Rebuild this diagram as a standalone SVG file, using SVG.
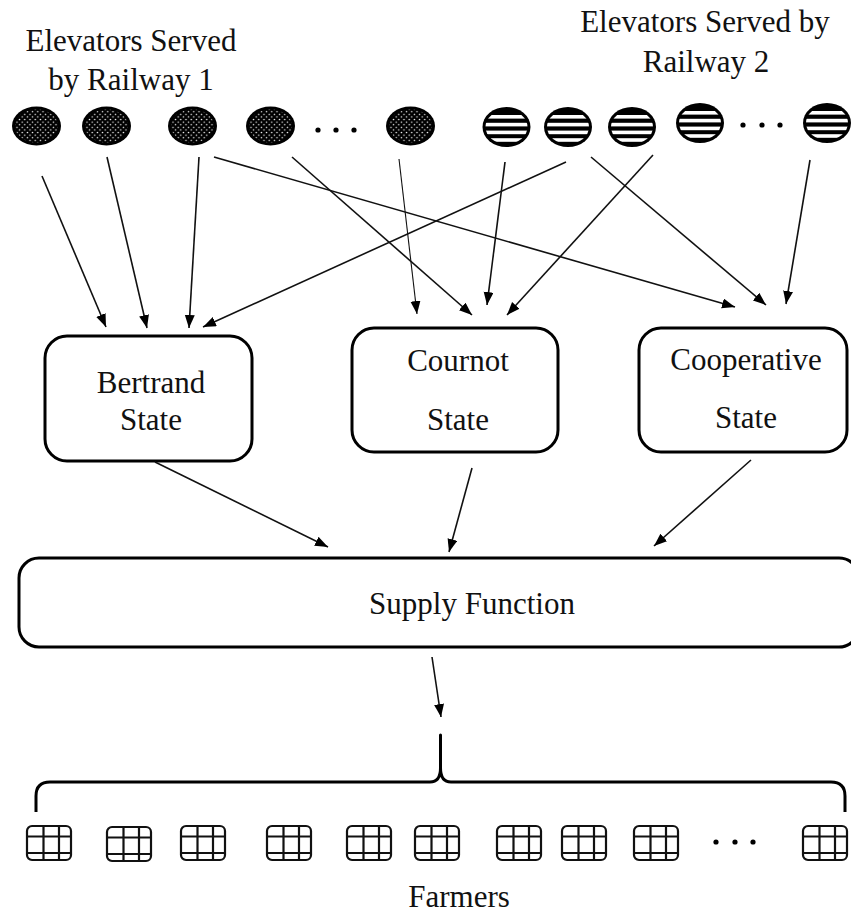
<svg xmlns="http://www.w3.org/2000/svg" xmlns:xlink="http://www.w3.org/1999/xlink" width="851" height="915" viewBox="0 0 851 915">
<style>
.lbl{font-family:"Liberation Serif","Times New Roman",serif;font-size:31px;fill:#111;text-anchor:middle}
.box{fill:#fff;stroke:#000;stroke-width:3}
.edge{stroke:#111;stroke-width:1.6;fill:none;marker-end:url(#ah)}
.dot{fill:#000}
.brace{fill:none;stroke:#000;stroke-width:3;stroke-linejoin:round}
</style>
<defs>
<marker id="ah" markerUnits="userSpaceOnUse" markerWidth="14" markerHeight="11" refX="13" refY="5" orient="auto">
<path d="M0,0 L13,5 L0,10 z" fill="#000"/>
</marker>
<pattern id="dots" patternUnits="userSpaceOnUse" width="5.2" height="5.2">
<rect width="5.2" height="5.2" fill="#000"/>
<circle cx="1.3" cy="1.3" r="0.75" fill="#fff"/>
<circle cx="3.9" cy="3.9" r="0.75" fill="#fff"/>
</pattern>
<clipPath id="stripeClip"><ellipse cx="0" cy="0" rx="21" ry="17"/></clipPath>
<symbol id="dotEll" overflow="visible">
<ellipse cx="0" cy="0" rx="24.5" ry="19.5" fill="#000"/>
<ellipse cx="0" cy="0" rx="21.5" ry="16.5" fill="url(#dots)"/>
</symbol>
<symbol id="stripeEll" overflow="visible">
<ellipse cx="0" cy="0" rx="24" ry="20" fill="#000"/>
<g clip-path="url(#stripeClip)" fill="#fff">
<rect x="-25" y="-12" width="50" height="3.6"/>
<rect x="-25" y="-4.2" width="50" height="3.6"/>
<rect x="-25" y="3.6" width="50" height="3.6"/>
<rect x="-25" y="11.2" width="50" height="3.6"/>
</g>
</symbol>
<symbol id="farmer" overflow="visible">
<rect x="1" y="1" width="44" height="34" rx="5" fill="#fff" stroke="#111" stroke-width="2.2"/>
<path d="M17.5,1 V35 M33,1 V35 M1,11.5 H45 M1,28 H45" stroke="#111" stroke-width="2.2" fill="none"/>
</symbol>
</defs>
<rect width="851" height="915" fill="#fff"/>

<g id="label-railway1">
<text class="lbl" x="131" y="51">Elevators Served</text>
<text class="lbl" x="131" y="90">by Railway 1</text>
</g>
<g id="label-railway2">
<text class="lbl" x="705" y="32">Elevators Served by</text>
<text class="lbl" x="706" y="72">Railway 2</text>
</g>

<g id="elevators-railway1">
<use xlink:href="#dotEll" href="#dotEll" x="36.5" y="126"/>
<use xlink:href="#dotEll" href="#dotEll" x="106.5" y="126"/>
<use xlink:href="#dotEll" href="#dotEll" x="192.5" y="126"/>
<use xlink:href="#dotEll" href="#dotEll" x="270.5" y="126"/>
<circle class="dot" cx="318" cy="130" r="2.6"/>
<circle class="dot" cx="336" cy="130" r="2.6"/>
<circle class="dot" cx="354" cy="130" r="2.6"/>
<use xlink:href="#dotEll" href="#dotEll" x="410.5" y="126"/>
</g>

<g id="elevators-railway2">
<use xlink:href="#stripeEll" href="#stripeEll" x="506.5" y="127"/>
<use xlink:href="#stripeEll" href="#stripeEll" x="568" y="127"/>
<use xlink:href="#stripeEll" href="#stripeEll" x="632" y="127"/>
<use xlink:href="#stripeEll" href="#stripeEll" x="700" y="123"/>
<circle class="dot" cx="743" cy="125" r="2.6"/>
<circle class="dot" cx="762" cy="125" r="2.6"/>
<circle class="dot" cx="780" cy="125" r="2.6"/>
<use xlink:href="#stripeEll" href="#stripeEll" x="827" y="123"/>
</g>

<g id="bertrand">
<rect class="box" x="45" y="336" width="207" height="125" rx="22"/>
<text class="lbl" x="151" y="393">Bertrand</text>
<text class="lbl" x="151" y="430">State</text>
</g>
<g id="cournot">
<rect class="box" x="352" y="328" width="206" height="124" rx="22"/>
<text class="lbl" x="458" y="371">Cournot</text>
<text class="lbl" x="458" y="430">State</text>
</g>
<g id="cooperative">
<rect class="box" x="639" y="328" width="208" height="124" rx="22"/>
<text class="lbl" x="746" y="370">Cooperative</text>
<text class="lbl" x="746" y="428">State</text>
</g>
<g id="supply">
<rect class="box" x="19" y="558" width="840" height="89" rx="20"/>
<text class="lbl" x="472" y="614">Supply Function</text>
</g>

<g id="farmers">
<use xlink:href="#farmer" href="#farmer" x="26" y="825"/>
<use xlink:href="#farmer" href="#farmer" x="106" y="826"/>
<use xlink:href="#farmer" href="#farmer" x="180" y="825"/>
<use xlink:href="#farmer" href="#farmer" x="266" y="825"/>
<use xlink:href="#farmer" href="#farmer" x="346" y="825"/>
<use xlink:href="#farmer" href="#farmer" x="414" y="825"/>
<use xlink:href="#farmer" href="#farmer" x="496" y="825"/>
<use xlink:href="#farmer" href="#farmer" x="561" y="825"/>
<use xlink:href="#farmer" href="#farmer" x="633" y="825"/>
<circle class="dot" cx="716" cy="842" r="2.6"/>
<circle class="dot" cx="735" cy="842" r="2.6"/>
<circle class="dot" cx="753" cy="842" r="2.6"/>
<use xlink:href="#farmer" href="#farmer" x="802" y="825"/>
<text class="lbl" x="459" y="907">Farmers</text>
</g>

<g id="brace">
<path class="brace" d="M36,812 V796 Q36,782 50,782 H430 Q440.5,782 440.5,768 V735 V768 Q440.5,782 451,782 H831 Q845,782 845,796 V812"/>
</g>

<g id="connectors">
<line class="edge" x1="42" y1="176" x2="106" y2="327"/>
<line class="edge" x1="107" y1="157" x2="147" y2="328"/>
<line class="edge" x1="199" y1="157" x2="189" y2="328"/>
<line class="edge" x1="566" y1="162" x2="203" y2="327"/>
<line class="edge" x1="214" y1="157" x2="735" y2="307"/>
<line class="edge" x1="292" y1="157" x2="472" y2="315"/>
<line class="edge" x1="399" y1="159" x2="417" y2="314" style="stroke-width:1.1"/>
<line class="edge" x1="505" y1="162" x2="487" y2="305"/>
<line class="edge" x1="653" y1="155" x2="507" y2="315"/>
<line class="edge" x1="591" y1="157" x2="766" y2="305"/>
<line class="edge" x1="810" y1="160" x2="786" y2="304"/>
<line class="edge" x1="155" y1="462" x2="328" y2="547"/>
<line class="edge" x1="472" y1="468" x2="449" y2="552"/>
<line class="edge" x1="751" y1="460" x2="654" y2="546"/>
<line class="edge" x1="432" y1="657" x2="441" y2="717"/>
</g>
</svg>
